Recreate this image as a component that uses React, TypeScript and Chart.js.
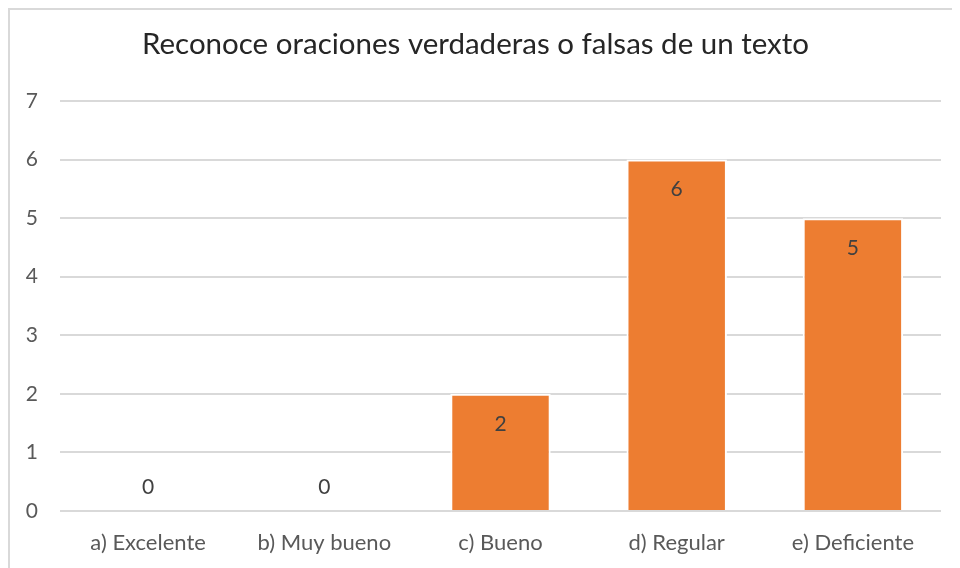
import React, { useEffect, useRef } from "react";
import { Chart, registerables } from "chart.js";

Chart.register(...registerables);

const titleText = "Reconoce oraciones verdaderas o falsas de un texto";
const categories = ["a) Excelente", "b) Muy bueno", "c) Bueno", "d) Regular", "e) Deficiente"];
const values = [0, 0, 2, 6, 5];
const yTicks = [0, 1, 2, 3, 4, 5, 6, 7];

const FONT = "Lato, 'Open Sans', sans-serif";

const labelPlugin = {
  id: "barLabels",
  afterDatasetsDraw(chart: any) {
    const ctx = chart.ctx;
    const meta = chart.getDatasetMeta(0);
    ctx.save();
    ctx.font = `21px ${FONT}`;
    ctx.fillStyle = "#404040";
    ctx.textAlign = "center";
    ctx.textBaseline = "middle";
    meta.data.forEach((el: any, i: number) => {
      const v = values[i];
      const y = v > 0 ? el.y + 30 : el.base - 24;
      ctx.fillText(String(v), el.x, y);
    });
    ctx.restore();
  },
};

export default function App() {
  const ref = useRef<HTMLCanvasElement>(null);
  useEffect(() => {
    document.body.style.overflow = "hidden";
    const chart = new Chart(ref.current as HTMLCanvasElement, {
      type: "bar",
      data: {
        labels: categories,
        datasets: [
          {
            data: values,
            backgroundColor: "#ED7D31",
            borderColor: "#ffffff",
            borderWidth: 2,
            barPercentage: 0.57,
            categoryPercentage: 1,
          },
        ],
      },
      options: {
        animation: false,
        responsive: false,
        maintainAspectRatio: false,
        layout: { padding: { top: 14, right: 19, bottom: 0, left: 0 } },
        plugins: {
          legend: { display: false },
          tooltip: { enabled: false },
          title: {
            display: true,
            text: titleText,
            color: "#262626",
            font: { family: FONT, size: 29.5, weight: "normal" },
            padding: { top: 3, bottom: 38.6 },
          },
        },
        scales: {
          x: {
            grid: { display: false, drawTicks: false },
            border: { display: false },
            ticks: {
              color: "#595959",
              font: { family: FONT, size: 22 },
              padding: 19,
              maxRotation: 0,
            },
            afterFit(scale: any) {
              scale.height = 57;
            },
          },
          y: {
            min: 0,
            max: 7,
            afterBuildTicks(scale: any) {
              scale.ticks = yTicks.map((v) => ({ value: v }));
            },
            grid: { color: "#d9d9d9", lineWidth: 2, drawTicks: false },
            border: { display: false },
            ticks: {
              color: "#595959",
              font: { family: FONT, size: 21 },
              padding: 22,
            },
            afterFit(scale: any) {
              scale.width = 50;
            },
          },
        },
      },
      plugins: [labelPlugin],
    });
    return () => chart.destroy();
  }, []);

  return (
    <div
      style={{
        width: 952,
        height: 560,
        boxSizing: "border-box",
        borderTop: "2px solid #d9d9d9",
        borderLeft: "2px solid #d9d9d9",
        background: "#fff",
      }}
    >
      <canvas ref={ref} width={950} height={558} style={{ display: "block" }} />
    </div>
  );
}
